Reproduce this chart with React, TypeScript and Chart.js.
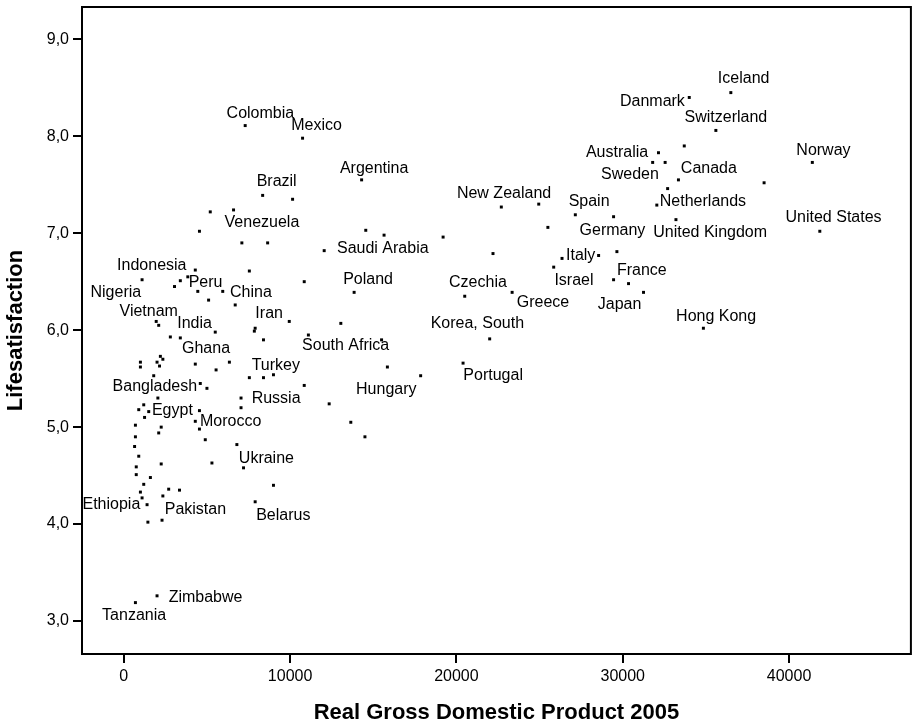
import React, { useEffect, useRef } from 'react';
import { Chart, registerables } from 'chart.js';

Chart.register(...registerables);

// Labelled countries
const countries = [
  'Iceland', 'Danmark', 'Switzerland', 'Norway', 'United States', 'Australia', 'Sweden', 'Canada', 'Netherlands', 'United Kingdom',
  'Spain', 'Germany', 'New Zealand', 'Italy', 'Israel', 'France', 'Japan', 'Hong Kong', 'Czechia', 'Greece',
  'Korea, South', 'Portugal', 'Hungary', 'South Africa', 'Poland', 'Saudi Arabia', 'Argentina', 'Mexico', 'Colombia', 'Brazil',
  'Venezuela', 'Indonesia', 'Nigeria', 'Peru', 'China', 'Vietnam', 'India', 'Iran', 'Ghana', 'Turkey',
  'Bangladesh', 'Russia', 'Egypt', 'Morocco', 'Ukraine', 'Ethiopia', 'Pakistan', 'Belarus', 'Zimbabwe', 'Tanzania',
];
const gdp = [
  36500, 34000, 35600, 41400, 41850, 32150, 31800, 33350, 32050, 33200,
  27150, 29450, 22700, 26350, 25850, 30350, 31250, 34850, 20500, 23350,
  22000, 20400, 17850, 11100, 13850, 12050, 14300, 10750, 7300, 8350,
  6600, 4300, 1100, 3400, 5950, 1950, 5500, 7900, 3400, 7550,
  4600, 7050, 1500, 4300, 7200, 1400, 2300, 7900, 2000, 700,
];
const lifeSat = [
  8.45, 8.40, 8.06, 7.73, 7.02, 7.83, 7.73, 7.55, 7.29, 7.14,
  7.19, 7.17, 7.27, 6.74, 6.65, 6.48, 6.39, 6.02, 6.35, 6.39,
  5.91, 5.66, 5.53, 5.95, 6.39, 6.82, 7.55, 7.98, 8.11, 7.39,
  7.24, 6.62, 6.52, 6.51, 6.40, 6.09, 5.98, 6.02, 5.92, 5.51,
  5.45, 5.30, 5.16, 5.06, 4.58, 4.20, 4.04, 4.23, 3.26, 3.19,
];

// Unlabelled countries
const otherGdp = [
  33700, 32700, 38500, 32550, 25500, 24950, 19200, 22200, 28550, 29650,
  29450, 15850, 15500, 14550, 15650, 10150, 5200, 4550, 7100, 8650,
  7550, 10850, 3050, 3850, 4450, 5100, 6700, 9950, 13050, 7850,
  8400, 2100, 2800, 2200, 2350, 2000, 2150, 1000, 1000, 4300,
  6350, 5550, 8400, 9000, 1800, 10850, 5000, 7050, 2050, 1200,
  900, 1250, 4550, 12350, 13650, 14500, 700, 2250, 4550, 2100,
  700, 4900, 6800, 650, 900, 2250, 5300, 750, 750, 1600,
  1200, 9000, 2700, 3350, 1000, 1100, 2350, 1450,
];
const otherLifeSat = [
  7.90, 7.46, 7.52, 7.73, 7.06, 7.30, 6.96, 6.79, 6.77, 6.81,
  6.52, 5.62, 5.90, 7.03, 6.98, 7.35, 7.22, 7.02, 6.90, 6.90,
  6.61, 6.50, 6.45, 6.55, 6.40, 6.31, 6.26, 6.09, 6.07, 5.99,
  5.90, 6.05, 5.93, 5.73, 5.70, 5.67, 5.63, 5.67, 5.62, 5.65,
  5.67, 5.59, 5.51, 5.54, 5.53, 5.43, 5.40, 5.20, 5.30, 5.23,
  5.18, 5.10, 5.17, 5.24, 5.05, 4.90, 5.02, 5.00, 4.98, 4.94,
  4.90, 4.87, 4.82, 4.80, 4.70, 4.62, 4.63, 4.59, 4.51, 4.48,
  4.41, 4.40, 4.36, 4.35, 4.33, 4.27, 4.29, 4.02,
];

const xTicks = [0, 10000, 20000, 30000, 40000];
const yTicks = [3, 4, 5, 6, 7, 8, 9];
const yTickLabels = ['3,0', '4,0', '5,0', '6,0', '7,0', '8,0', '9,0'];
const xTitle = 'Real Gross Domestic Product 2005';
const yTitle = 'Lifesatisfaction';

// label placement relative to its point (px)
const labelOffsets: Record<string, [number, number]> = {
  'Iceland': [-13, -13.7],
  'Danmark': [-69.3, 4],
  'Switzerland': [-31.3, -13],
  'Norway': [-16, -12.3],
  'United States': [-34.3, -13.3],
  'Australia': [-72.6, 0],
  'Sweden': [-51.6, 12.3],
  'Canada': [2.4, -11.6],
  'Netherlands': [3, -3.7],
  'United Kingdom': [-22.7, 13.4],
  'Spain': [-6.7, -13],
  'Germany': [-34, 13.5],
  'New Zealand': [-44.4, -13.4],
  'Italy': [4, -3.3],
  'Israel': [0.7, 13.3],
  'France': [-11.6, -13.3],
  'Japan': [-45.7, 12.3],
  'Hong Kong': [-27.3, -11.6],
  'Czechia': [-15.7, -14],
  'Greece': [4.6, 10],
  'Korea, South': [-59, -15],
  'Portugal': [0.3, 12.3],
  'Hungary': [-64.6, 13.5],
  'South Africa': [-6.3, 11],
  'Poland': [-11, -12.7],
  'Saudi Arabia': [12.8, -2.2],
  'Argentina': [-21.7, -11.7],
  'Mexico': [-11.3, -12.7],
  'Colombia': [-18.6, -12.3],
  'Brazil': [-6, -13.6],
  'Venezuela': [-9, 13],
  'Indonesia': [-78.2, -4.7],
  'Nigeria': [-51.6, 12.4],
  'Peru': [8.3, 1.7],
  'China': [7.3, 1.2],
  'Vietnam': [-36.7, -10],
  'India': [-38, -8.4],
  'Iran': [0.2, -14.7],
  'Ghana': [1.7, 10.8],
  'Turkey': [2.3, -12],
  'Bangladesh': [-87.7, 3.2],
  'Russia': [10.6, 0.8],
  'Egypt': [3.2, -1.5],
  'Morocco': [4.7, 0.7],
  'Ukraine': [-4.7, -9.7],
  'Ethiopia': [-64.6, 0.3],
  'Pakistan': [2.7, -10.7],
  'Belarus': [1, 13.7],
  'Zimbabwe': [11.6, 1.6],
  'Tanzania': [-33.3, 13.3],
};

const FONT = '"Liberation Sans", Arial, sans-serif';

export default function App() {
  const canvasRef = useRef<HTMLCanvasElement>(null);

  useEffect(() => {
    if (!canvasRef.current) return;

    const points = [
      ...gdp.map((x, i) => ({ x, y: lifeSat[i] })),
      ...otherGdp.map((x, i) => ({ x, y: otherLifeSat[i] })),
    ];

    const framePlugin = {
      id: 'frame',
      beforeDatasetsDraw(chart: any) {
        const { ctx, chartArea: a } = chart;
        ctx.save();
        ctx.strokeStyle = '#000';
        ctx.lineWidth = 2;
        ctx.strokeRect(a.left, a.top, a.right - a.left, a.bottom - a.top);
        ctx.restore();
      },
    };

    const labelPlugin = {
      id: 'pointLabels',
      afterDatasetsDraw(chart: any) {
        const { ctx } = chart;
        const xs = chart.scales.x;
        const ys = chart.scales.y;
        ctx.save();
        ctx.font = `16px ${FONT}`;
        ctx.fillStyle = '#000';
        ctx.textBaseline = 'middle';
        ctx.textAlign = 'left';
        countries.forEach((name, i) => {
          const [dx, dy] = labelOffsets[name] || [4, 0];
          ctx.fillText(name, xs.getPixelForValue(gdp[i]) + dx, ys.getPixelForValue(lifeSat[i]) + dy);
        });
        ctx.restore();
      },
    };

    const chart = new Chart(canvasRef.current, {
      type: 'scatter',
      data: {
        datasets: [
          {
            data: points,
            pointStyle: 'rect',
            pointRadius: 2.1,
            pointHoverRadius: 2.1,
            pointBorderWidth: 0,
            backgroundColor: '#000',
            borderColor: '#000',
          },
        ],
      },
      options: {
        responsive: false,
        animation: false,
        devicePixelRatio: 1,
        layout: { padding: { left: 0, top: 7, right: 1, bottom: 0 } },
        plugins: {
          legend: { display: false },
          tooltip: { enabled: false },
        },
        scales: {
          x: {
            type: 'linear',
            min: -2512,
            max: 47327,
            afterBuildTicks: (scale: any) => {
              scale.ticks = xTicks.map((v) => ({ value: v }));
            },
            afterFit: (scale: any) => {
              scale.height = 72;
              scale.paddingLeft = 0;
              scale.paddingRight = 0;
            },
            ticks: {
              color: '#000',
              font: { family: FONT, size: 16 },
              padding: 4,
              maxRotation: 0,
              callback: (v: any) => String(v),
            },
            grid: {
              display: true,
              drawOnChartArea: false,
              drawTicks: true,
              tickLength: 9,
              lineWidth: 2,
              color: '#000',
            },
            border: { display: false },
            title: {
              display: true,
              text: xTitle,
              color: '#000',
              font: { family: FONT, size: 22, weight: 'bold' },
              padding: { top: 0, bottom: 0 },
            },
          },
          y: {
            type: 'linear',
            min: 2.66,
            max: 9.333,
            afterBuildTicks: (scale: any) => {
              scale.ticks = yTicks.map((v) => ({ value: v }));
            },
            afterFit: (scale: any) => {
              scale.width = 82;
              scale.paddingTop = 0;
              scale.paddingBottom = 0;
            },
            ticks: {
              color: '#000',
              font: { family: FONT, size: 16 },
              padding: 4,
              callback: (v: any) => {
                const idx = yTicks.indexOf(Number(v));
                return idx >= 0 ? yTickLabels[idx] : '';
              },
            },
            grid: {
              display: true,
              drawOnChartArea: false,
              drawTicks: true,
              tickLength: 9,
              lineWidth: 2,
              color: '#000',
            },
            border: { display: false },
            title: {
              display: true,
              text: yTitle,
              color: '#000',
              font: { family: FONT, size: 22, weight: 'bold' },
              padding: { top: 3, bottom: 0 },
            },
          },
        },
      },
      plugins: [framePlugin, labelPlugin],
    } as any);

    return () => chart.destroy();
  }, []);

  return (
    <div style={{ position: 'fixed', left: 0, top: 0, width: 913, height: 726, background: '#fff' }}>
      <canvas ref={canvasRef} width={913} height={726} />
    </div>
  );
}
